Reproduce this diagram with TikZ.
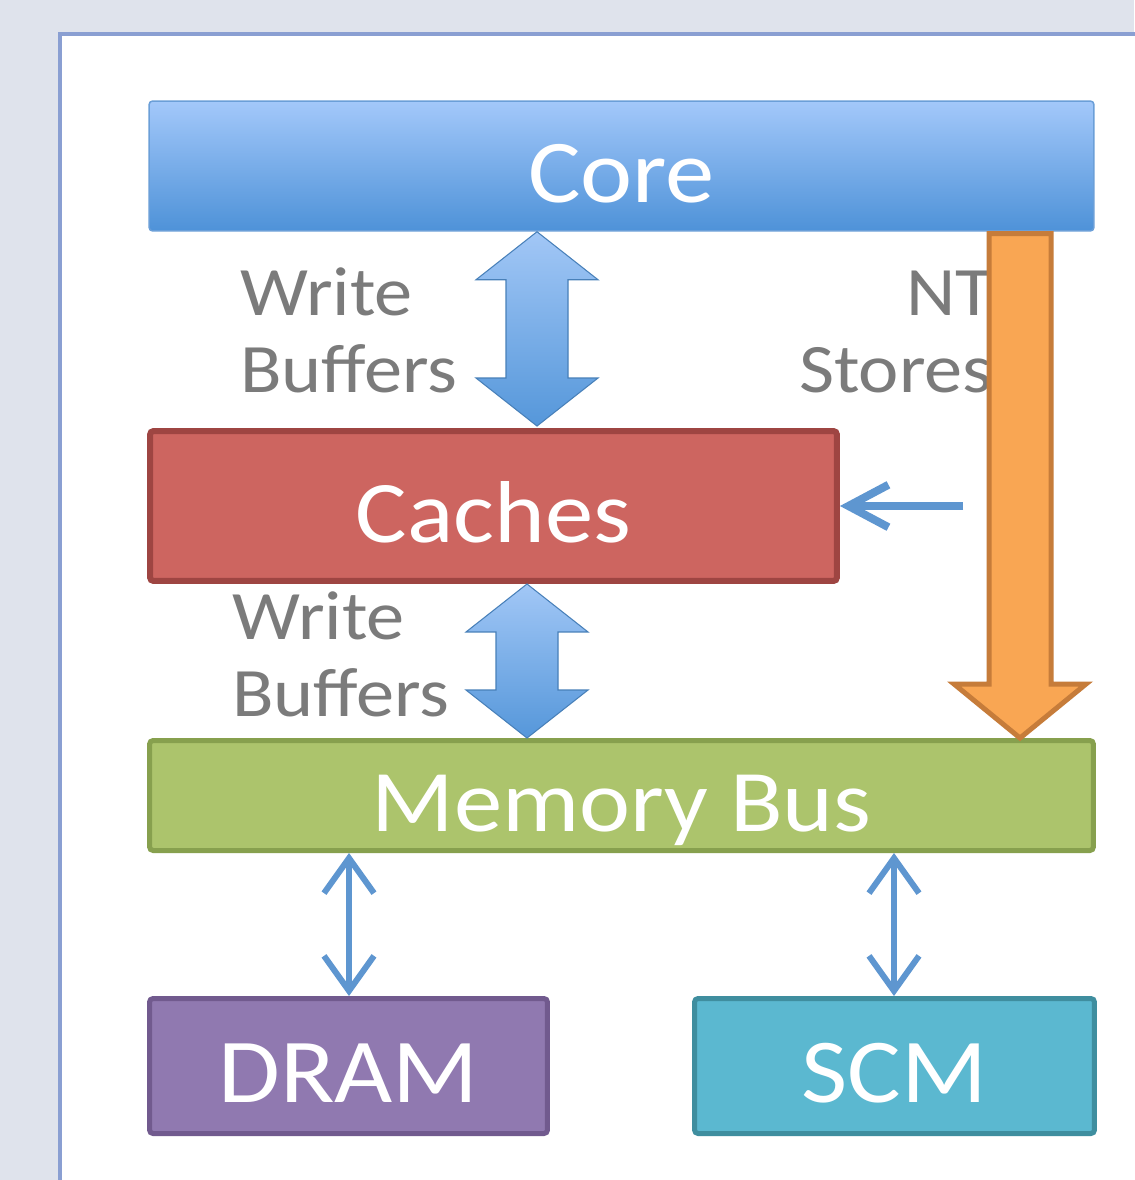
\documentclass[tikz,border=0pt]{standalone}
\usepackage{fontspec}
\setmainfont{Carlito}[FakeStretch=1.1]
\usepackage{tikz}
\usetikzlibrary{positioning,arrows.meta,calc}
\definecolor{bgpanel}{HTML}{DFE3EC}
\definecolor{panelline}{HTML}{8A9FD2}
\definecolor{coretop}{HTML}{A3C8FA}
\definecolor{corebot}{HTML}{4E92D8}
\definecolor{coreline}{HTML}{6B9FD8}
\definecolor{cachefill}{HTML}{CD6560}
\definecolor{cacheline}{HTML}{9E4542}
\definecolor{busfill}{HTML}{ACC46C}
\definecolor{busline}{HTML}{87A04E}
\definecolor{dramfill}{HTML}{9079B0}
\definecolor{dramline}{HTML}{715A8E}
\definecolor{scmfill}{HTML}{5BB8D0}
\definecolor{scmline}{HTML}{3F8E9F}
\definecolor{ntfill}{HTML}{F9A653}
\definecolor{ntline}{HTML}{C67C3A}
\definecolor{wbtop}{HTML}{A2C7F6}
\definecolor{wbbot}{HTML}{5597DA}
\definecolor{linkblue}{HTML}{5E96D0}
\definecolor{labgray}{HTML}{7B7B7B}

\begin{document}
\begin{tikzpicture}[
  x=0.02cm, y=-0.02cm,
  box/.style={rounded corners=2pt, align=center, text=white, inner sep=0pt,
    text height=1.45cm, text depth=0cm},
  lab/.style={text=labgray, inner sep=0pt, font=\fontsize{39.5}{43.6}\selectfont},
  wbarrow/.style={draw=wbbot!85!black, line width=0.6pt, top color=wbtop, bottom color=wbbot,
    to path={(\tikztostart) -- ($(\tikztostart)+(-61,48)$) -- ($(\tikztostart)+(-31,48)$)
      -- ($(\tikztotarget)+(-31,-48)$) -- ($(\tikztotarget)+(-61,-48)$) -- (\tikztotarget)
      -- ($(\tikztotarget)+(61,-48)$) -- ($(\tikztotarget)+(31,-48)$)
      -- ($(\tikztostart)+(31,48)$) -- ($(\tikztostart)+(61,48)$) -- cycle}},
  ntarrow/.style={draw=ntline, fill=ntfill, line width=0.1cm, line join=miter,
    to path={($(\tikztostart)+(-31,0)$) -- ($(\tikztotarget)+(-31,-54)$) -- ($(\tikztotarget)+(-66,-54)$)
      -- (\tikztotarget) -- ($(\tikztotarget)+(66,-54)$) -- ($(\tikztotarget)+(31,-54)$)
      -- ($(\tikztostart)+(31,0)$) -- cycle}},
  link/.style={draw=linkblue, line width=0.12cm,
    {Straight Barb[length=0.7cm,width=1.0cm]}-{Straight Barb[length=0.7cm,width=1.0cm]}},
]
  \useasboundingbox (0,0) rectangle (1134,1180);
  \fill[bgpanel] (0,0) rectangle (1134,1180);
  \draw[panelline, line width=0.08cm, fill=white] (60,34) rectangle (1150,1200);

  % boxes
  \node[box, draw=coreline, line width=0.03cm, top color=coretop, bottom color=corebot,
    minimum width=18.9cm, minimum height=2.6cm, font=\fontsize{51}{57}\selectfont]
    (core) at (621.5,166) {Core};
  \node[box, draw=cacheline, fill=cachefill, line width=0.12cm,
    minimum width=13.74cm, minimum height=3.0cm, font=\fontsize{50}{56}\selectfont]
    (caches) at (493.5,506) {Caches};
  \node[box, draw=busline, fill=busfill, line width=0.1cm,
    minimum width=18.88cm, minimum height=2.2cm, font=\fontsize{50}{56}\selectfont]
    (bus) at (621.5,795.5) {Memory Bus};
  \node[box, draw=dramline, fill=dramfill, line width=0.1cm,
    minimum width=7.96cm, minimum height=2.7cm, font=\fontsize{52}{58}\selectfont]
    (dram) at (348.5,1066) {DRAM};
  \node[box, draw=scmline, fill=scmfill, line width=0.1cm,
    minimum width=8.0cm, minimum height=2.7cm, font=\fontsize{52}{58}\selectfont]
    (scm) at (894.5,1066) {SCM};

  % labels
  \node[lab, align=left, anchor=base west] (wbtext1) at (240,392) {Write\\Buffers};
  \node[lab, align=left, anchor=base west] (wbtext2) at (232,716) {Write\\Buffers};
  \node[lab, align=right, anchor=base east] (nttext) at (993,392) {NT\\Stores};

  % connectors
  \coordinate (wbx1) at (537,0);
  \coordinate (wbx2) at (527,0);
  \coordinate (ntx) at (1020,0);
  \coordinate (dramx) at (349,0);
  \coordinate (scmx) at (894,0);
  \coordinate (ntfrom) at (963,506);
  \draw[wbarrow] (core.south -| wbx1) to ([yshift=0.04cm]caches.north -| wbx1);
  \draw[wbarrow] (caches.south -| wbx2) to (bus.north -| wbx2);
  \draw[ntarrow] ([yshift=-0.04cm]core.south -| ntx) to (bus.north -| ntx);
  \draw[draw=linkblue, line width=0.16cm, -{Straight Barb[length=0.8cm,width=0.85cm]}]
    (ntfrom) -- (caches.east |- ntfrom);
  \draw[link] (bus.south -| dramx) -- (dram.north -| dramx);
  \draw[link] (bus.south -| scmx) -- (scm.north -| scmx);
\end{tikzpicture}
\end{document}
